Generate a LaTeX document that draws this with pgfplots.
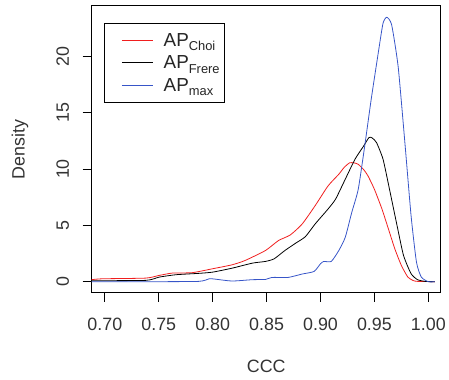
\documentclass[border=0pt]{standalone}
\usepackage{fontspec}
\setmainfont{Liberation Sans}
\usepackage{pgfplots}
\pgfplotsset{compat=1.18}
\definecolor{rred}{RGB}{240,30,30}
\definecolor{rblue}{RGB}{55,85,200}
\begin{document}
\begin{tikzpicture}
\begin{axis}[
  at={(0,0)}, anchor=south west,
  scale only axis, width=351bp, height=288bp,
  xmin=0.6877, xmax=1.0117, ymin=-0.97, ymax=24.47,
  xtick={0.70,0.75,0.80,0.85,0.90,0.95,1.00},
  ytick={0,5,10,15,20},
  xticklabel style={/pgf/number format/fixed, /pgf/number format/fixed zerofill, /pgf/number format/precision=2},
  /pgf/number format/assume math mode=true,
  tick align=outside, major tick length=9bp,
  xtick pos=bottom, ytick pos=left,
  tick style={black, line width=0.8bp},
  axis line style={black, line width=1bp},
  ticklabel style={font=\fontsize{18}{18}\selectfont, color=black!80},
  yticklabel style={rotate=90, anchor=south, yshift=10bp},
  xticklabel style={anchor=north, yshift=-13bp},
  xlabel={CCC}, ylabel={Density},
  label style={font=\fontsize{18}{18}\selectfont, color=black!80},
  xlabel style={at={(axis description cs:0.5,-0.257)}, anchor=center},
  ylabel style={at={(axis description cs:-0.205,0.5)}, anchor=center, rotate=0},
  legend style={at={(axis description cs:0.037,0.941)}, anchor=north west,
    draw=black, line width=1bp, font=\fontsize{19}{19}\selectfont, text=black!85,
    inner xsep=3bp, inner ysep=8bp, row sep=4bp},
  legend cell align=left,
  legend image code/.code={\path[draw=none] (-14bp,-2bp) rectangle (40bp,2bp);
     \draw[#1, line width=1bp] (0bp,0bp) -- (31bp,0bp);},
]
\addplot[rred, line width=0.8bp, smooth, tension=0.35] coordinates {
(0.6877,0.18) (0.698,0.26) (0.738,0.32) (0.7505,0.56) (0.763,0.77) (0.781,0.80)
(0.800,1.15) (0.818,1.50) (0.830,1.88) (0.849,2.77) (0.861,3.65) (0.872,4.15)
(0.883,5.12) (0.895,6.74) (0.907,8.50) (0.917,9.54) (0.922,10.15) (0.927,10.55)
(0.931,10.55) (0.935,10.42) (0.940,9.95) (0.944,9.40) (0.950,8.20) (0.957,6.45)
(0.963,4.68) (0.969,2.90) (0.975,1.44) (0.981,0.41) (0.986,0.10) (0.990,0.03) (1.006,0)
};
\addlegendentry{AP\raisebox{-0.45ex}{\fontsize{13}{13}\selectfont Choi}}
\addplot[black, line width=0.8bp, smooth, tension=0.35] coordinates {
(0.6877,0.09) (0.738,0.12) (0.7505,0.41) (0.766,0.62) (0.787,0.74) (0.800,0.85)
(0.818,1.20) (0.837,1.65) (0.849,1.80) (0.857,2.03) (0.867,2.77) (0.877,3.42)
(0.886,4.00) (0.895,5.12) (0.907,6.45) (0.914,7.33) (0.923,9.10) (0.932,10.87)
(0.940,12.04) (0.945,12.80) (0.948,12.75) (0.952,12.34) (0.958,10.87) (0.964,8.20)
(0.971,4.98) (0.977,2.33) (0.984,0.71) (0.990,0.18) (0.997,0.03) (1.006,0)
};
\addlegendentry{AP\raisebox{-0.45ex}{\fontsize{13}{13}\selectfont Frere}}
\addplot[rblue, line width=0.8bp, smooth, tension=0.35] coordinates {
(0.6877,0) (0.738,0) (0.787,0.03) (0.797,0.26) (0.803,0.22) (0.818,0.06)
(0.837,0.18) (0.849,0.20) (0.855,0.38) (0.870,0.38) (0.883,0.68) (0.894,0.91)
(0.900,1.59) (0.903,1.80) (0.910,1.80) (0.917,2.77) (0.923,3.95) (0.929,6.15)
(0.935,8.20) (0.941,12.04) (0.947,16.17) (0.954,20.58) (0.958,22.94) (0.9615,23.47)
(0.966,22.79) (0.972,19.10) (0.978,12.63) (0.984,5.86) (0.989,1.74) (0.9935,0.41) (1.000,0) (1.006,0)
};
\addlegendentry{AP\raisebox{-0.45ex}{\fontsize{13}{13}\selectfont max}}
\end{axis}
\useasboundingbox (-92bp,-87bp) rectangle (357bp,294bp);
\end{tikzpicture}
\end{document}
